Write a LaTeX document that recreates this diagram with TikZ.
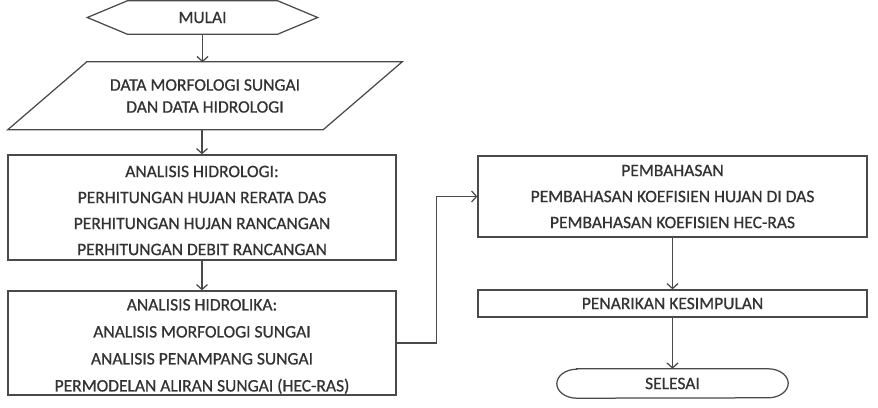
\documentclass[tikz,border=0pt]{standalone}
\usepackage{fontspec}
\setmainfont[FakeBold=0.8]{Carlito}
\usetikzlibrary{arrows.meta}
\definecolor{txt}{HTML}{333333}
\definecolor{ln}{HTML}{4A4A4A}
\begin{document}
\begin{tikzpicture}[x=1pt,y=-1pt,
  every node/.style={text=txt, font=\fontsize{17.5}{26}\selectfont, inner sep=0pt, align=center},
  shp/.style={draw=ln, line width=1.25pt},
  procbox/.style={draw=ln, line width=1.25pt, rectangle, minimum width=389pt},
  conn/.style={draw=ln, line width=1.25pt, -{Straight Barb[length=5pt,width=11pt]}}]
\useasboundingbox (0,0) rectangle (878,407);
% start
\node[minimum width=150pt, minimum height=33pt] (mulai) at (202.5,17.5) {MULAI};
\draw[shp] (mulai.north west) -- (mulai.north east) -- ([xshift=40pt]mulai.east) -- (mulai.south east) -- (mulai.south west) -- ([xshift=-40pt]mulai.west) -- cycle;
% input
\node[minimum width=236pt, minimum height=67pt, font=\fontsize{17.5}{22}\selectfont] (data) at (205,96) {DATA MORFOLOGI SUNGAI\\DAN DATA HIDROLOGI};
\draw[shp] ([yshift=0.5pt]data.north west) -- ([xshift=79pt,yshift=0.5pt]data.north east) -- (data.south east) -- ([xshift=-79pt]data.south west) -- cycle;
% boxes
\node[procbox, minimum width=388pt, minimum height=105pt] (hidro) at (202,207.5) {};
\node (hidrotxt) at (202,210.5) {ANALISIS HIDROLOGI:\\PERHITUNGAN HUJAN RERATA DAS\\PERHITUNGAN HUJAN RANCANGAN\\PERHITUNGAN DEBIT RANCANGAN};
\node[procbox, minimum width=388pt, minimum height=104pt] (hidrol) at (202,343) {};
\node[font=\fontsize{17.5}{27}\selectfont] (hidroltxt) at (202,346.5) {ANALISIS HIDROLIKA:\\ANALISIS MORFOLOGI SUNGAI\\ANALISIS PENAMPANG SUNGAI\\PERMODELAN ALIRAN SUNGAI (HEC-RAS)};
\node[procbox, minimum height=81pt] (bahas) at (672.5,196.5) {PEMBAHASAN\\PEMBAHASAN KOEFISIEN HUJAN DI DAS\\PEMBAHASAN KOEFISIEN HEC-RAS};
\node[procbox, minimum height=27pt] (simpul) at (672.5,303.5) {PENARIKAN KESIMPULAN};
% end
\node[minimum width=231pt, minimum height=29pt] (selesai) at (672.5,383.5) {SELESAI};
\draw[shp] ([xshift=20pt]selesai.north west) -- ([xshift=-20pt]selesai.north east)
  arc[start angle=90, end angle=-90, x radius=20pt, y radius=14.5pt]
  -- ([xshift=20pt]selesai.south west)
  arc[start angle=270, end angle=90, x radius=20pt, y radius=14.5pt] -- cycle;
% connectors
\coordinate (c1) at (436.5,0);
\draw[conn] (mulai.south) -- (mulai.south |- data.north);
\draw[conn] (hidro.north |- data.south) -- (hidro.north);
\draw[conn] (hidro.south) -- (hidrol.north);
\draw[conn] (hidrol.east) -| (c1 |- bahas.west) -- (bahas.west);
\draw[conn] (bahas.south) -- (simpul.north);
\draw[conn] (simpul.south) -- (selesai.north);
\end{tikzpicture}
\end{document}
